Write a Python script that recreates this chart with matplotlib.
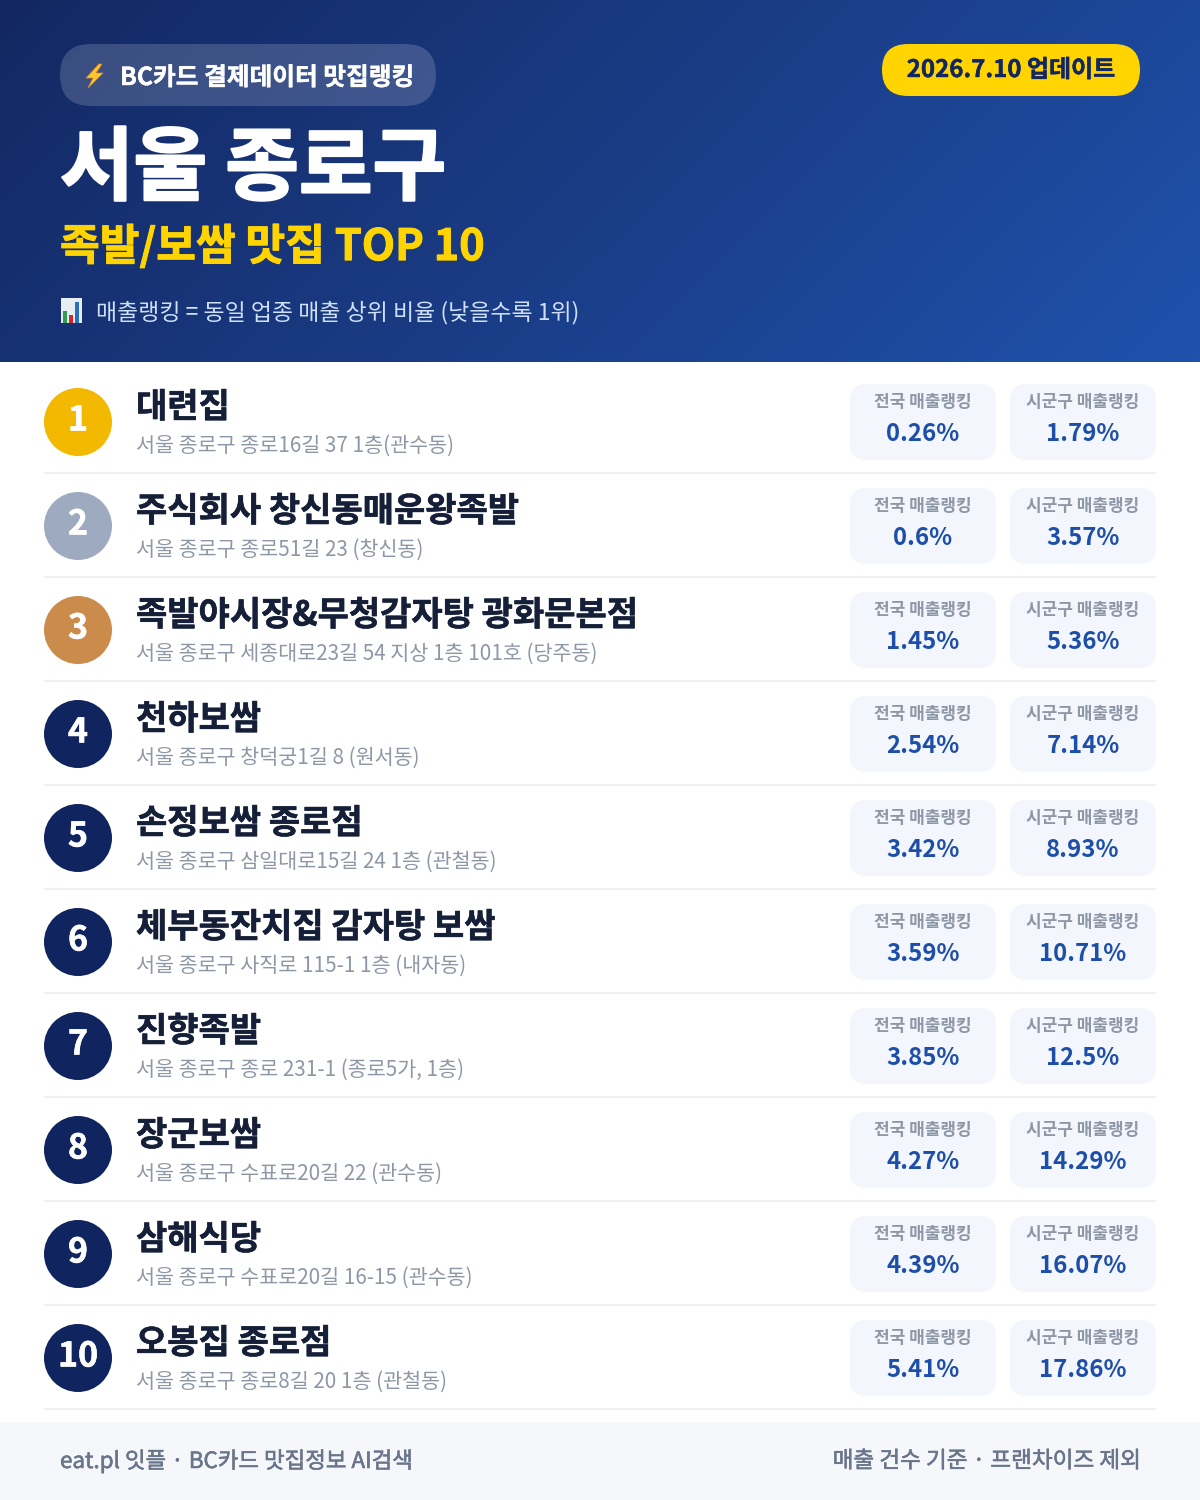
import numpy as np
import matplotlib
matplotlib.use('Agg')
import matplotlib.pyplot as plt
import matplotlib.patheffects as pe
from matplotlib.patches import FancyBboxPatch, Circle, Polygon, Rectangle
from matplotlib.colors import LinearSegmentedColormap

plt.rcParams['font.family'] = ['Noto Sans CJK KR', 'DejaVu Sans']

names = ['대련집', '주식회사 창신동매운왕족발', '족발야시장&무청감자탕 광화문본점', '천하보쌈', '손정보쌈 종로점',
         '체부동잔치집 감자탕 보쌈', '진향족발', '장군보쌈', '삼해식당', '오봉집 종로점']
addresses = ['서울 종로구 종로16길 37 1층(관수동)', '서울 종로구 종로51길 23 (창신동)',
             '서울 종로구 세종대로23길 54 지상 1층 101호 (당주동)', '서울 종로구 창덕궁1길 8 (원서동)',
             '서울 종로구 삼일대로15길 24 1층 (관철동)', '서울 종로구 사직로 115-1 1층 (내자동)',
             '서울 종로구 종로 231-1 (종로5가, 1층)', '서울 종로구 수표로20길 22 (관수동)',
             '서울 종로구 수표로20길 16-15 (관수동)', '서울 종로구 종로8길 20 1층 (관철동)']
national = ['0.26%', '0.6%', '1.45%', '2.54%', '3.42%', '3.59%', '3.85%', '4.27%', '4.39%', '5.41%']
district = ['1.79%', '3.57%', '5.36%', '7.14%', '8.93%', '10.71%', '12.5%', '14.29%', '16.07%', '17.86%']
rank_colors = ['#f2b900', '#9eaac0', '#cb8b4a'] + ['#10245f'] * 7

fig = plt.figure(figsize=(12, 15), dpi=100)
ax = fig.add_axes([0, 0, 1, 1])
ax.set_xlim(0, 1200)
ax.set_ylim(1500, 0)
ax.axis('off')

def px(size):
    return size * 0.72

def pill(x0, y0, x1, y1, r, color, alpha=1.0, z=2):
    ax.add_patch(FancyBboxPatch((x0, y0), x1 - x0, y1 - y0, boxstyle='round,pad=0,rounding_size=%g' % r,
                                fc=color, ec='none', alpha=alpha, zorder=z))

def heavy(txt, color, w=0.8):
    # the bundled bold is a bit lighter than the reference, thicken it
    txt.set_path_effects([pe.withStroke(linewidth=w, foreground=color)])

# header gradient
gx, gy = np.meshgrid(np.linspace(0, 1, 300), np.linspace(0, 1, 90))
cmap = LinearSegmentedColormap.from_list('hdr', ['#132862', '#1a3c85', '#1f52ad'])
ax.imshow((gx * 1200 + gy * 362) / 1562, extent=(0, 1200, 362, 0), cmap=cmap, aspect='auto', zorder=1)
ax.set_xlim(0, 1200)
ax.set_ylim(1500, 0)

pill(60, 44, 436, 106, 31, '#ffffff', alpha=0.17)
ax.add_patch(Polygon([(99, 64), (86, 78), (93, 78), (88, 88), (103, 73), (96, 73), (102, 64)],
                     fc='#ffc62e', ec='#e8891c', lw=0.5, zorder=3))
t = ax.text(120, 78, 'BC카드 결제데이터 맛집랭킹', color='white', fontsize=px(24.7), fontweight='bold', va='center', zorder=3)
heavy(t, 'white', 0.3)

pill(882, 44, 1140, 96, 26, '#ffd400')
t = ax.text(1011, 70, '2026.7.10 업데이트', color='#12275f', fontsize=px(24), fontweight='bold', va='center', ha='center', zorder=3)
heavy(t, '#12275f', 0.3)

t = ax.text(60, 170, '서울 종로구', color='white', fontsize=px(80), fontweight='bold', va='center', zorder=3)
heavy(t, 'white', 1.6)
t = ax.text(60, 247, '족발/보쌈 맛집 TOP 10', color='#ffd400', fontsize=px(43.2), fontweight='bold', va='center', zorder=3)
heavy(t, '#ffd400', 0.7)

# chart icon
ax.add_patch(Rectangle((61, 298), 21, 25, fc='#e8edf3', ec='none', zorder=3))
ax.add_patch(Rectangle((63, 311), 4, 12, fc='#2e9e4f', ec='none', zorder=4))
ax.add_patch(Rectangle((69, 315), 4, 8, fc='#d8262c', ec='none', zorder=4))
ax.add_patch(Rectangle((75, 302), 4, 21, fc='#2a6fb8', ec='none', zorder=4))
ax.text(96, 313, '매출랭킹 = 동일 업종 매출 상위 비율 (낮을수록 1위)', color='#cfe0fa', fontsize=px(22.9), va='center', zorder=3)

# rows
for i in range(len(names)):
    dy = 104 * i
    ax.add_patch(Circle((78, 422 + dy), 34, fc=rank_colors[i], ec='none', zorder=2))
    t = ax.text(78, 420 + dy, str(i + 1), color='white', fontsize=px(34), fontweight='bold', ha='center', va='center', zorder=3)
    heavy(t, 'white', 0.4)
    t = ax.text(136, 407 + dy, names[i], color='#152038', fontsize=px(34), fontweight='bold', va='center', zorder=3)
    heavy(t, '#152038', 0.4)
    ax.text(136, 446 + dy, addresses[i], color='#8e97a6', fontsize=px(20.7), va='center', zorder=3)
    ax.plot([44, 1156], [473 + dy, 473 + dy], color='#eff1f4', lw=1.5, solid_capstyle='butt', zorder=2)
    pill(850, 384 + dy, 996, 460 + dy, 16, '#f3f6fd')
    pill(1010, 384 + dy, 1156, 460 + dy, 16, '#f3f6fd')
    ax.text(923, 402 + dy, '전국 매출랭킹', color='#8e97a6', fontsize=px(17), fontweight='bold', ha='center', va='center', zorder=3)
    ax.text(1083, 402 + dy, '시군구 매출랭킹', color='#8e97a6', fontsize=px(17), fontweight='bold', ha='center', va='center', zorder=3)
    ax.text(923, 434 + dy, national[i], color='#1e4fa8', fontsize=px(24), fontweight='bold', ha='center', va='center', zorder=3)
    ax.text(1083, 434 + dy, district[i], color='#1e4fa8', fontsize=px(24), fontweight='bold', ha='center', va='center', zorder=3)

# footer
ax.add_patch(Rectangle((0, 1422), 1200, 78, fc='#f5f7fb', ec='none', zorder=1))
t = ax.text(60, 1461, 'eat.pl 잇플 · BC카드 맛집정보 AI검색', color='#69758a', fontsize=px(22.4), va='center', zorder=3)
heavy(t, '#69758a', 0.4)
t = ax.text(1140, 1461, '매출 건수 기준 · 프랜차이즈 제외', color='#69758a', fontsize=px(22.6), va='center', ha='right', zorder=3)
heavy(t, '#69758a', 0.4)

fig.savefig('out.png', dpi=100)
